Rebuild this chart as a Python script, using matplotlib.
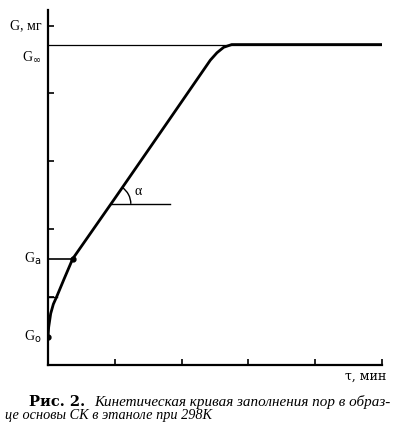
import numpy as np
import matplotlib.pyplot as plt
from matplotlib.patches import Arc

plt.rcParams['font.family'] = ['Liberation Serif', 'DejaVu Serif']

# кинетическая кривая (условные единицы)
tau = [0.0, 0.01, 0.04, 0.08, 0.13, 0.24, 0.37, 1.0, 1.8, 2.43, 2.53, 2.63, 2.75, 5.0]
G = [0.41, 0.55, 0.75, 0.89, 1.00, 1.26, 1.56, 2.45, 3.59, 4.49, 4.60, 4.68, 4.72, 4.72]
G_inf = 4.72
G_a = 1.56
tau_a = 0.37
G_0 = 0.41
x_ticks = [1, 2, 3, 4, 5]
y_ticks = [1, 2, 3, 4, 5]

fig = plt.figure(figsize=(3.98, 4.29), dpi=100)
ax = fig.add_axes([48 / 398, 1 - 364.5 / 429, 334 / 398, 354.5 / 429])
ax.set_xlim(0, 5)
ax.set_ylim(0, 5.23)
for s in ['top', 'right']:
    ax.spines[s].set_visible(False)
for s in ['left', 'bottom']:
    ax.spines[s].set_linewidth(1.6)
ax.set_xticks(x_ticks)
ax.set_yticks(y_ticks)
ax.tick_params(direction='in', length=4, width=1.2, labelbottom=False, labelleft=False)

# линия насыщения
ax.plot([0, 5], [G_inf, G_inf], color='black', lw=0.9)
# кривая
ax.plot(tau, G, color='black', lw=2.0, solid_capstyle='round', solid_joinstyle='round')
ax.plot([tau[0], tau_a], [G_0, G_a], 'o', color='black', ms=3.5)
ax.plot([0, tau_a], [G_a, G_a], color='black', lw=1.2)
ax.plot([0, tau[4]], [G[4], G[4]], color='black', lw=1.0)

# угол наклона
slope = (G[9] - G[6]) / (tau[9] - tau[6])
ya = 2.37
xa = tau_a + (ya - G_a) / slope
ax.plot([xa, 1.83], [ya, ya], color='black', lw=1.0)
ax.add_patch(Arc((xa, ya), 0.6, 0.59, theta1=0, theta2=55, color='black', lw=1.0))
ax.text(1.35, 2.55, 'α', fontsize=10, ha='center', va='center')

ax.text(-0.1, 5.0, 'G, мг', fontsize=10, ha='right', va='center', clip_on=False)
ax.text(-0.1, 4.54, 'G$_{\\infty}$', fontsize=10, ha='right', va='center')
ax.text(-0.1, G_a, 'G$_{\\rm a}$', fontsize=10, ha='right', va='center')
ax.text(-0.1, G_0, 'G$_{\\rm o}$', fontsize=10, ha='right', va='center')
ax.text(5.06, -0.17, 'τ, мин', fontsize=9, family='DejaVu Serif', ha='right', va='center',
        clip_on=False)

fig.text(29 / 398, 1 - 406 / 429, 'Рис. 2.', fontsize=10.5, family='DejaVu Serif',
         fontweight='bold', va='baseline')
fig.text(94 / 398, 1 - 406 / 429, 'Кинетическая кривая заполнения пор в образ-',
         fontsize=10.9, style='italic', va='baseline')
fig.text(5 / 398, 1 - 419 / 429, 'це основы СК в этаноле при 298К', fontsize=10.3,
         style='italic', va='baseline')

fig.savefig('out.png', dpi=100)
